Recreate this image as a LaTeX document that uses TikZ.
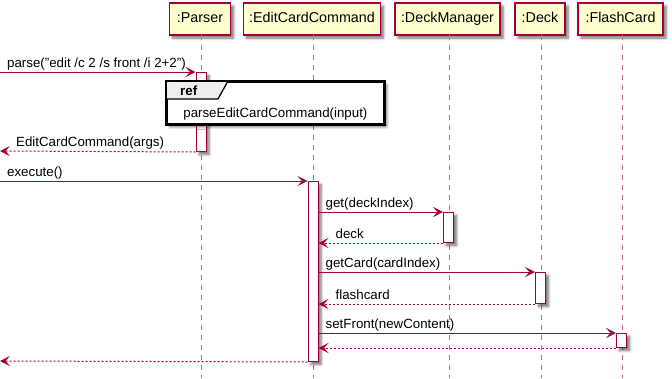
\documentclass[tikz,border=0pt]{standalone}
\usepackage{fontspec}
\setmainfont{Liberation Sans}
\usetikzlibrary{arrows.meta,shadows.blur,calc}
\definecolor{puRed}{HTML}{A80036}
\definecolor{puFill}{HTML}{FEFECE}
\definecolor{refHead}{HTML}{EEEEEE}
\tikzset{
  softshadow/.style={blur shadow={shadow xshift=3pt, shadow yshift=-3pt, shadow blur steps=6, shadow opacity=55, shadow blur radius=2.5pt}},
  participant/.style={draw=puRed, line width=1.3pt, fill=puFill, minimum height=32pt, inner sep=0pt, text height=10.5pt, text depth=3pt, font=\fontsize{14.3}{16}\selectfont, softshadow},
  lifeline/.style={draw=puRed!60, line width=1pt, dash pattern=on 5pt off 5pt},
  actbar/.style={draw=puRed, line width=1pt, fill=white, minimum width=10pt, inner sep=0pt, anchor=north, softshadow},
  tip/.style={-{Stealth[length=10pt,width=10pt,inset=4.5pt]}},
  msg/.style={draw=puRed, line width=1pt, tip},
  ret/.style={draw=puRed, line width=1pt, dash pattern=on 2pt off 2pt, tip},
  lbl/.style={inner sep=0pt, anchor=base west, font=\fontsize{13.3}{15}\selectfont},
  refbox/.style={draw=black, line width=1.8pt, fill=white, inner sep=0pt, anchor=north west, softshadow},
}
\begin{document}
\begin{tikzpicture}[x=1pt, y=-1pt]
\useasboundingbox (0,0) rectangle (672,378);

% participants
\node[participant, minimum width=61pt]  (P)  at (200,19)   {:Parser};
\node[participant, minimum width=137pt] (E)  at (312,19)   {:EditCardCommand};
\node[participant, minimum width=105pt] (DM) at (447.5,19) {:DeckManager};
\node[participant, minimum width=50pt]  (D)  at (540,19)   {:Deck};
\node[participant, minimum width=85pt]  (F)  at (620.5,19) {:FlashCard};

% lifelines
\coordinate (Pl) at (201,35);
\coordinate (El) at (313,35);
\coordinate (DMl) at (449,35);
\coordinate (Dl) at (541,35);
\coordinate (Fl) at (622,35);
\foreach \l in {Pl,El,DMl,Dl,Fl}
  \draw[lifeline] (\l) -- (\l |- 0,378);

% activation bars
\node[actbar, minimum height=79pt]  (aP)  at (201,72)  {};
\node[actbar, minimum height=180pt] (aE)  at (313,181) {};
\node[actbar, minimum height=30pt]  (aDM) at (448.5,212) {};
\node[actbar, minimum height=31pt]  (aD)  at (540.5,272) {};
\node[actbar, minimum height=14pt]  (aF)  at (621.5,333) {};

% messages
\coordinate (in1) at (0,72);
\draw[msg] (in1) -- (aP.north west);
\node[lbl] at ($(in1)+(7,-5)$) {parse("edit /c 2 /s front /i 2+2")};

\coordinate (out1) at (0,151);
\draw[ret] (aP.south west) -- (out1);
\node[lbl] at ($(out1)+(16,-5)$) {EditCardCommand(args)};

\coordinate (in2) at (0,181);
\draw[msg] (in2) -- (aE.north west);
\node[lbl] at ($(in2)+(7,-5)$) {execute()};

\coordinate (m3) at (aE.east |- aDM.north);
\draw[msg] (m3) -- (aDM.north west);
\node[lbl] at ($(m3)+(7,-5)$) {get(deckIndex)};

\coordinate (r3) at (aE.east |- aDM.south);
\draw[ret] (aDM.south west) -- (r3);
\node[lbl] at ($(r3)+(17,-5)$) {deck};

\coordinate (m4) at (aE.east |- aD.north);
\draw[msg] (m4) -- (aD.north west);
\node[lbl] at ($(m4)+(7,-5)$) {getCard(cardIndex)};

\coordinate (r4) at (aE.east |- aD.south);
\draw[ret] (aD.south west) -- (r4);
\node[lbl] at ($(r4)+(17,-5)$) {flashcard};

\coordinate (m5) at (aE.east |- aF.north);
\draw[msg] (m5) -- (aF.north west);
\node[lbl] at ($(m5)+(7,-5)$) {setFront(newContent)};

\coordinate (r5) at (aE.east |- aF.south);
\draw[ret] (aF.south west) -- (r5);

\coordinate (out2) at (0,361);
\draw[ret] (aE.south west) -- (out2);

% reference frame
\node[refbox, minimum width=217pt, minimum height=42pt] (ref) at (166,81) {};
\filldraw[fill=refHead, draw=black, line width=1.3pt]
  (ref.north west) -- ++(62,0) -- ++(-10,18) -- (ref.north west |- 0,99) -- cycle;
\draw[black, line width=1.8pt] (ref.north west) rectangle (ref.south east);
\node[lbl, font=\fontsize{13.3}{15}\selectfont\bfseries] (refT) at (180,95) {ref};
\node[inner sep=0pt, anchor=base, font=\fontsize{13.3}{15}\selectfont] (refB) at (ref.center |- 0,117) {parseEditCardCommand(input)};
\end{tikzpicture}
\end{document}
